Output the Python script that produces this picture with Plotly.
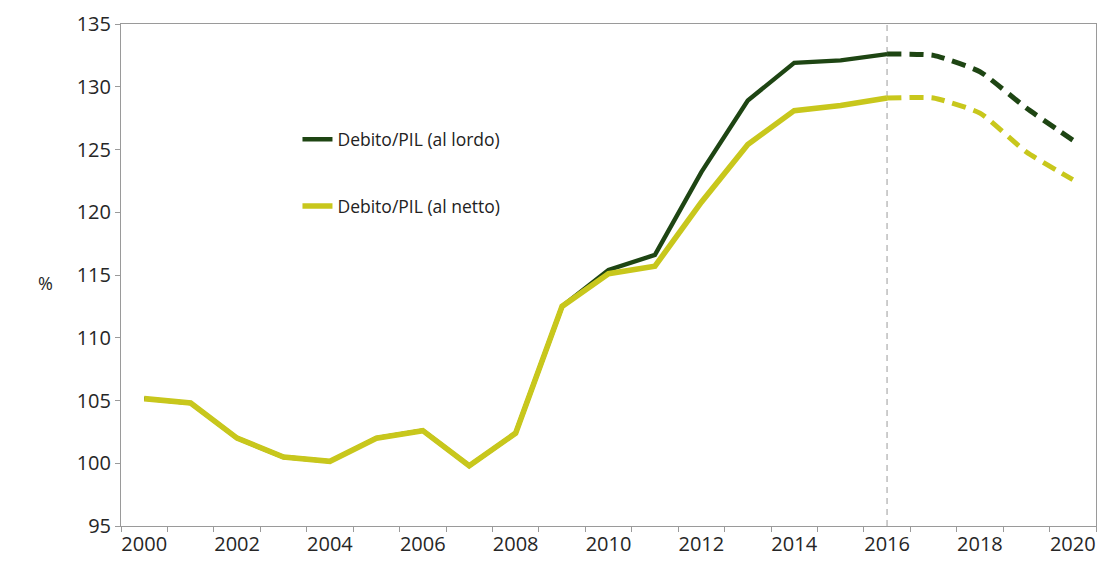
import plotly.graph_objects as go

# Debt-to-GDP ratio, actual (2000-2016) and projected (2016-2020)
years_actual = list(range(2000, 2017))
years_proj = list(range(2016, 2021))

lordo_actual = [105.15, 104.8, 102.0, 100.5, 100.15, 102.0, 102.6, 99.8, 102.4,
                112.5, 115.4, 116.6, 123.2, 128.9, 131.9, 132.1, 132.6]
netto_actual = [105.15, 104.8, 102.0, 100.5, 100.15, 102.0, 102.6, 99.8, 102.4,
                112.5, 115.1, 115.7, 120.8, 125.4, 128.1, 128.5, 129.1]
lordo_proj = [132.6, 132.5, 131.2, 128.3, 125.75]
netto_proj = [129.1, 129.1, 127.9, 124.8, 122.6]

tick_years = list(range(2000, 2021, 2))
split_year = 2016

DARK = "#1e4513"
LIGHT = "#c8c71c"
FONT = "Open Sans"
TEXT = "#262626"

fig = go.Figure()

fig.add_trace(go.Scatter(x=years_actual, y=lordo_actual, mode="lines",
                         name="Debito/PIL (al lordo)", legendgroup="lordo",
                         line=dict(color=DARK, width=4.4)))
fig.add_trace(go.Scatter(x=years_actual, y=netto_actual, mode="lines",
                         name="Debito/PIL (al netto)", legendgroup="netto",
                         line=dict(color=LIGHT, width=5.6)))
fig.add_trace(go.Scatter(x=years_proj, y=lordo_proj, mode="lines",
                         showlegend=False, legendgroup="lordo",
                         line=dict(color=DARK, width=5, dash="14px,8px",
                                   shape="spline", smoothing=0.5)))
fig.add_trace(go.Scatter(x=years_proj, y=netto_proj, mode="lines",
                         showlegend=False, legendgroup="netto",
                         line=dict(color=LIGHT, width=5, dash="14px,8px",
                                   shape="spline", smoothing=0.5)))

# Vertical marker separating actual data from projections
fig.add_shape(type="line", xref="x", yref="paper", x0=split_year, x1=split_year,
              y0=0, y1=1, line=dict(color="#bdbdbd", width=1.5, dash="6px,5px"),
              layer="below")

fig.add_annotation(text="%", xref="paper", yref="paper", x=-0.077, y=0.485,
                   showarrow=False, xanchor="center", yanchor="middle",
                   font=dict(family=FONT, size=18, color=TEXT))

fig.update_layout(
    width=1103, height=565,
    margin=dict(l=121, r=7, t=24, b=39),
    paper_bgcolor="white", plot_bgcolor="white",
    font=dict(family=FONT, size=20, color=TEXT),
    showlegend=True,
    legend=dict(x=0.181, y=0.806, xanchor="left", yanchor="top",
                bgcolor="rgba(0,0,0,0)", tracegroupgap=41,
                font=dict(family=FONT, size=17.5, color="#222222")),
    xaxis=dict(range=[1999.5, 2020.5], tickvals=tick_years,
               ticktext=[str(y) for y in tick_years],
               ticks="", showgrid=False, zeroline=False,
               showline=True, linecolor="#9a9a9a", linewidth=1, mirror=True,
               minor=dict(tick0=1999.5, dtick=1, ticks="outside", ticklen=5,
                          tickcolor="#9a9a9a", showgrid=False),
               tickfont=dict(size=20)),
    yaxis=dict(range=[95, 135], dtick=5, ticks="outside", ticklen=5,
               tickcolor="#9a9a9a", showgrid=False, zeroline=False,
               showline=True, linecolor="#9a9a9a", linewidth=1, mirror=True,
               tickfont=dict(size=20)),
)

fig.write_html("out.html")
